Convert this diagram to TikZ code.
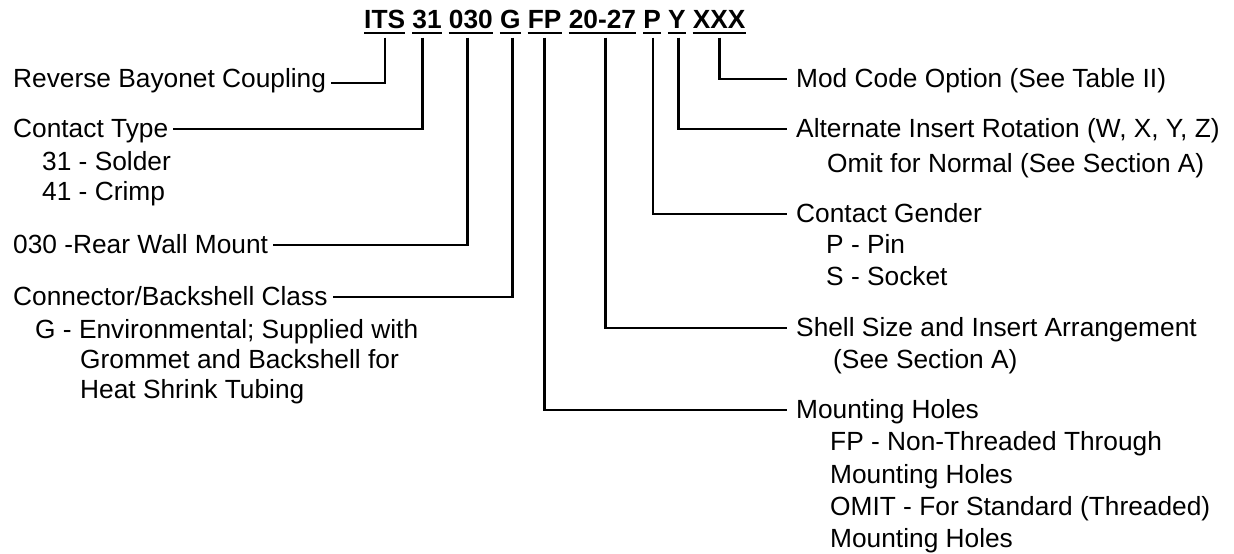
\documentclass[tikz,border=0pt]{standalone}
\usepackage{fontspec}
\setmainfont{Liberation Sans}
\begin{document}
\begin{tikzpicture}[x=1pt,y=-1pt,
  every node/.style={font=\fontsize{26.3}{31}\selectfont},
  code/.style={font=\fontsize{26.3}{31}\selectfont\bfseries, anchor=base west, inner sep=0pt, text depth=9.5pt, text height=19pt},
  lab/.style={anchor=west, inner ysep=0pt, text height=16pt, text depth=0pt},
  labL/.style={lab, inner xsep=5pt},
  labR/.style={lab, inner xsep=9pt},
  sub/.style={anchor=base west, inner sep=0pt},
  conn/.style={line width=2.6pt},
  ul/.style={line width=2.4pt}]
\useasboundingbox (0,0) rectangle (1234,554);

% part number code
\node[code] (cITS)  at (364,28)   {ITS};
\node[code] (c31)   at (412.2,28) {31};
\node[code] (c030)  at (448.7,28) {030};
\node[code] (cG)    at (499.9,28) {G};
\node[code] (cFP)   at (527.7,28) {FP};
\node[code] (c2027) at (568.6,28) {20-27};
\node[code] (cP)    at (643.1,28) {P};
\node[code] (cY)    at (667.9,28) {Y};
\node[code] (cXXX)  at (692.7,28) {XXX};
\foreach \n in {cITS,c31,c030,cG,cFP,c2027,cP,cY,cXXX}
  \draw[ul] ([yshift=5pt]\n.south west) -- ([yshift=5pt]\n.south east);

% left labels
\node[labL] (rbc) at (8,79)  {Reverse Bayonet Coupling};
\node[labL] (ct)  at (8,129) {Contact Type};
\node[sub]  (ct1) at (42,170) {31 - Solder};
\node[sub]  (ct2) at (42,200) {41 - Crimp};
\node[labL] (rwm) at (8,245) {030 -Rear Wall Mount};
\node[labL] (cbc) at (8,297) {Connector/Backshell Class};
\node[sub]  (cb1) at (35,338) {G - Environmental; Supplied with};
\node[sub]  (cb2) at (80,368) {Grommet and Backshell for};
\node[sub]  (cb3) at (80,398) {Heat Shrink Tubing};

% right labels
\node[labR] (mod) at (787,79)  {Mod Code Option (See Table II)};
\node[labR] (air) at (787,129) {Alternate Insert Rotation (W, X, Y, Z)};
\node[sub]  (air1) at (827,172) {Omit for Normal (See Section A)};
\node[labR] (cg)  at (787,214) {Contact Gender};
\node[sub]  (cg1) at (826,253) {P - Pin};
\node[sub]  (cg2) at (826,285) {S - Socket};
\node[labR] (ss)  at (787,328) {Shell Size and Insert Arrangement};
\node[sub]  (ss1) at (833,368) {(See Section A)};
\node[labR] (mh)  at (787,410) {Mounting Holes};
\node[sub]  (mh1) at (830,450) {FP - Non-Threaded Through};
\node[sub]  (mh2) at (830,483) {Mounting Holes};
\node[sub]  (mh3) at (830,515) {OMIT - For Standard (Threaded)};
\node[sub]  (mh4) at (830,547) {Mounting Holes};

% connectors
\draw[conn] ([xshift=0.5pt]cITS.south) |- ([yshift=-4pt]rbc.east);
\draw[conn] ([xshift=-4.8pt]c31.south) |- (ct.east);
\draw[conn] ([xshift=-3.6pt]c030.south) |- (rwm.east);
\draw[conn] ([xshift=2pt]cG.south) |- (cbc.east);
\draw[conn] (cFP.south) |- (mh.west);
\draw[conn] ([xshift=3pt]c2027.south) |- (ss.west);
\draw[conn] ([xshift=1pt]cP.south) |- (cg.west);
\draw[conn] ([xshift=1.4pt]cY.south) |- (air.west);
\draw[conn] (cXXX.south) |- (mod.west);
\end{tikzpicture}
\end{document}
